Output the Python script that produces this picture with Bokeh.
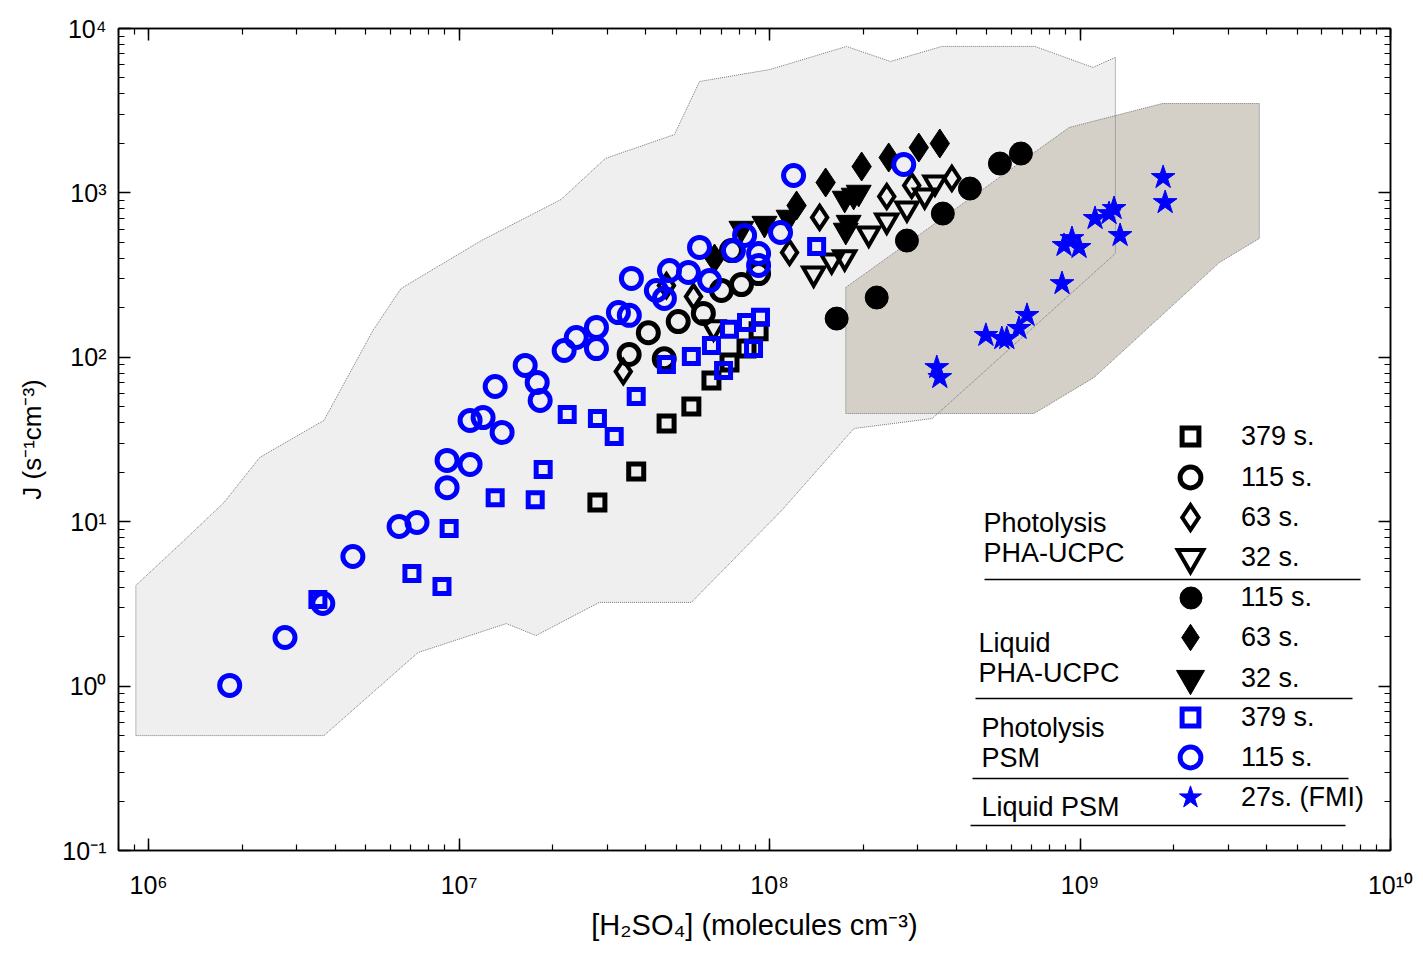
from bokeh.plotting import figure
from bokeh.models import (Range1d, LogAxis, LogTicker, CustomJSTickFormatter, Legend,
                          LegendItem, Label, BoxAnnotation)
from bokeh.embed import file_html
from bokeh.resources import INLINE

# ---------------- data ----------------
# Photolysis PHA-UCPC
ucpc_379_x = [2.79e7, 3.72e7, 4.66e7, 5.6e7, 6.5e7, 7.43e7, 8.43e7, 9.22e7]
ucpc_379_y = [13.1, 20.2, 39.6, 50.2, 72.3, 93, 113, 144]
ucpc_115_x = [3.53e7, 4.07e7, 4.58e7, 5.08e7, 6.12e7, 7.0e7, 8.12e7, 9.22e7, 7.54e7]
ucpc_115_y = [104, 141, 98, 165, 185, 255, 277, 323, 446]
ucpc_63_x = [3.38e7, 4.655e7, 5.69e7, 1.16e8, 1.45e8, 2.385e8, 2.87e8, 3.865e8]
ucpc_63_y = [81.9, 273, 234, 434, 709, 951, 1109, 1224]
ucpc_32_x = [6.6e7, 1.387e8, 1.585e8, 1.746e8, 2.087e8, 2.385e8, 2.77e8, 3.16e8, 3.41e8]
ucpc_32_y = [152, 323, 388, 405, 566, 679, 804, 965, 1157]
# Liquid PHA-UCPC
liq_115_x = [1.645e8, 2.214e8, 2.77e8, 3.615e8, 4.42e8, 5.52e8, 6.45e8]
liq_115_y = [172, 231, 513, 749, 1063, 1509, 1736]
liq_63_x = [6.65e7, 1.222e8, 1.516e8, 1.98e8, 2.42e8, 3.025e8, 3.535e8]
liq_63_y = [399, 838, 1157, 1447, 1642, 1888, 1998]
liq_32_x = [8.12e7, 9.63e7, 1.152e8, 1.746e8, 1.866e8, 1.937e8, 1.798e8, 1.76e8]
liq_32_y = [607, 651, 709, 925, 965, 1006, 660, 591]
# Photolysis PSM
psm_379_x = [3.51e6, 7.05e6, 8.81e6, 9.29e6, 1.307e7, 1.759e7, 1.866e7, 2.23e7, 2.79e7, 3.16e7,
             3.72e7, 4.655e7, 5.6e7, 6.5e7, 7.11e7, 7.43e7, 8.43e7, 8.88e7, 9.35e7, 1.418e8]
psm_379_y = [3.36, 4.84, 4.04, 9.09, 14.0, 13.6, 20.8, 44.9, 42.4, 33.0,
             57.7, 90.4, 101, 118, 83.1, 148, 163, 113, 175, 472]
psm_115_x = [1.825e6, 2.75e6, 3.64e6, 4.55e6, 6.41e6, 7.32e6, 9.15e6, 9.15e6, 1.085e7, 1.085e7,
             1.195e7, 1.376e7, 1.307e7, 1.633e7, 1.785e7, 1.825e7, 2.18e7, 2.385e7, 2.77e7, 2.77e7,
             3.26e7, 3.535e7, 3.59e7, 4.32e7, 4.585e7, 4.76e7, 5.48e7, 5.95e7, 6.41e7, 7.65e7,
             8.31e7, 9.22e7, 9.22e7, 1.085e8, 1.195e8, 2.705e8]
psm_115_y = [1.01, 1.975, 3.18, 6.14, 9.35, 9.89, 16.1, 23.6, 22.3, 41.3,
             43.0, 34.9, 66.4, 89.2, 70.3, 54.6, 110, 132, 152, 113,
             187, 180, 302, 255, 228, 337, 328, 466, 293, 446,
             551, 428, 362, 574, 1276, 1488]
# Liquid PSM (FMI)
fmi_27_x = [3.457e8, 3.535e8, 4.975e8, 5.6e8, 5.81e8, 6.36e8, 6.75e8, 8.75e8, 8.88e8, 9.42e8,
            9.93e8, 1.118e9, 1.24e9, 1.287e9, 1.346e9, 1.852e9, 1.88e9]
fmi_27_y = [86.7, 75.4, 136, 130, 130, 150, 180, 281, 479, 528,
            466, 699, 749, 804, 551, 1241, 874]

# shaded envelopes
light_x = [9.1e5, 9.1e5, 1.27e6, 1.75e6, 2.28e6, 3.67e6, 5.28e6, 6.5e6, 1.18e7, 2.13e7,
           2.96e7, 4.94e7, 5.95e7, 1.007e8, 1.77e8, 2.45e8, 3.59e8, 7.16e8, 1.10e9, 1.30e9,
           1.30e9, 3.34e8, 1.87e8, 1.094e8, 5.6e7, 2.83e7, 1.77e7, 1.42e7, 7.38e6, 3.67e6]
light_y = [0.5, 4.1, 7.37, 13.1, 24.6, 41.3, 145.6, 262, 513, 912,
           1620, 2265, 4760, 5640, 7780, 6300, 7780, 7780, 5800, 6670,
           428, 42.4, 36.9, 11.7, 3.23, 3.23, 2.03, 2.40, 1.60, 0.5]
dark_x = [1.76e8, 1.76e8, 7.11e8, 1.11e9, 2.81e9, 3.78e9, 3.78e9, 1.84e9, 9.23e8, 7.65e8]
dark_y = [266, 45.5, 45.5, 75.4, 377, 528, 3497, 3497, 2500, 1940]

FONT = "Liberation Sans"

p = figure(x_axis_type="log", y_axis_type="log",
           x_range=Range1d(8e5, 1e10), y_range=Range1d(0.1, 1e4),
           frame_width=1272, frame_height=822,
           min_border_left=118, min_border_right=25, min_border_top=28, min_border_bottom=93,
           output_backend="svg", toolbar_location=None,
           background_fill_color="white", border_fill_color="white",
           outline_line_color="black", outline_line_width=1.5)
p.grid.visible = False
bottom_ax = p.below[0]
left_ax = p.left[0]

# envelopes
p.patch(light_x, light_y, fill_color="#efefef", line_color=None)
p.patch(dark_x, dark_y, fill_color="#d4d0c8", line_color="#777777", line_width=1, line_dash="1 1")
p.line(light_x + light_x[:1], light_y + light_y[:1], line_color="#777777", line_width=1, line_dash="1 1")

# markers
r_u379 = p.scatter(ucpc_379_x, ucpc_379_y, marker="square", size=15, fill_alpha=0,
                   line_color="black", line_width=5, line_join="miter")
r_u115 = p.scatter(ucpc_115_x, ucpc_115_y, marker="circle", size=20, fill_alpha=0,
                   line_color="black", line_width=5)
r_u63 = p.scatter(ucpc_63_x, ucpc_63_y, marker="diamond", size=23, fill_alpha=0,
                  line_color="black", line_width=4, line_join="miter")
r_u32 = p.scatter(ucpc_32_x, ucpc_32_y, marker="inverted_triangle", size=21, fill_alpha=0,
                  line_color="black", line_width=4, line_join="miter")
r_l115 = p.scatter(liq_115_x, liq_115_y, marker="circle", size=23, fill_color="black",
                   line_color="black", line_width=1)
r_l63 = p.scatter(liq_63_x, liq_63_y, marker="diamond", size=29, fill_color="black",
                  line_color="black", line_width=1, line_join="miter")
r_l32 = p.scatter(liq_32_x, liq_32_y, marker="inverted_triangle", size=25, fill_color="black",
                  line_color="black", line_width=1, line_join="miter")
r_p379 = p.scatter(psm_379_x, psm_379_y, marker="square", size=14, fill_alpha=0,
                   line_color="#0000ff", line_width=5, line_join="miter")
r_p115 = p.scatter(psm_115_x, psm_115_y, marker="circle", size=20, fill_alpha=0,
                   line_color="#0000ff", line_width=5)
r_f27 = p.scatter(fmi_27_x, fmi_27_y, marker="star", size=25, fill_color="#0000ff",
                  line_color="#0000ff", line_width=1)

# axes
sup_fmt = CustomJSTickFormatter(code="""
const sup = {'0':'\\u2070','1':'\\u00b9','2':'\\u00b2','3':'\\u00b3','4':'\\u2074','5':'\\u2075',
             '6':'\\u2076','7':'\\u2077','8':'\\u2078','9':'\\u2079','-':'\\u207b'};
const e = Math.round(Math.log10(tick));
return '10' + String(e).split('').map(c => sup[c]).join('');
""")
blank_fmt = CustomJSTickFormatter(code="return '';")

top_ax = LogAxis()
right_ax = LogAxis()
p.add_layout(top_ax, "above")
p.add_layout(right_ax, "right")

for ax in [bottom_ax, left_ax, top_ax, right_ax]:
    ax.ticker = LogTicker(num_minor_ticks=10)
    ax.major_tick_in = 12
    ax.major_tick_out = 0
    ax.minor_tick_in = 6
    ax.minor_tick_out = 0
    ax.axis_line_width = 1.5
    ax.axis_line_color = "black"
    ax.major_tick_line_width = 1.5
    ax.minor_tick_line_width = 1.2
    ax.major_label_text_font = FONT
    ax.major_label_text_font_size = "25px"
    ax.major_label_text_color = "black"

for ax in [top_ax, right_ax]:
    ax.formatter = blank_fmt
    ax.major_label_standoff = 0

bottom_ax.formatter = sup_fmt
left_ax.formatter = sup_fmt
bottom_ax.major_label_standoff = 20
left_ax.major_label_standoff = 12

bottom_ax.axis_label = "[H\u2082SO\u2084] (molecules cm\u207b\u00b3)"
left_ax.axis_label = "J (s\u207b\u00b9cm\u207b\u00b3)"
for ax in [bottom_ax, left_ax]:
    ax.axis_label_text_font = FONT
    ax.axis_label_text_font_style = "normal"
    ax.axis_label_text_color = "black"
bottom_ax.axis_label_text_font_size = "29px"
left_ax.axis_label_text_font_size = "26px"
bottom_ax.axis_label_standoff = 7
left_ax.axis_label_standoff = 12

# legend: one Legend per row so each glyph gets its own size
FRAME_LEFT, FRAME_BOTTOM = 118, 850  # page px of frame
legend_rows = [
    (r_u379, "379 s.", 42, 436),
    (r_u115, "115 s.", 52, 477),
    (r_u63, "63 s.", 62, 517),
    (r_u32, "32 s.", 64, 557),
    (r_l115, "115 s.", 55, 597),
    (r_l63, "63 s.", 66, 637),
    (r_l32, "32 s.", 70, 678),
    (r_p379, "379 s.", 42, 717),
    (r_p115, "115 s.", 52, 757),
    (r_f27, "27s. (FMI)", 58, 797),
]
glyph_cx, text_x = 1190, 1241
for rend, lab, w, cy in legend_rows:
    leg = Legend(items=[LegendItem(label=lab, renderers=[rend])],
                 location=(glyph_cx - w / 2 - FRAME_LEFT, FRAME_BOTTOM - cy - w / 2),
                 glyph_width=w, glyph_height=w, label_standoff=int(text_x - glyph_cx - w / 2),
                 padding=0, spacing=0, margin=0,
                 border_line_alpha=0, background_fill_alpha=0,
                 label_text_font=FONT, label_text_font_size="27px", label_text_color="black")
    p.add_layout(leg)

group_labels = [
    ("Photolysis", 983, 522), ("PHA-UCPC", 983, 552),
    ("Liquid", 978, 642), ("PHA-UCPC", 978, 672),
    ("Photolysis", 981, 727), ("PSM", 981, 757),
    ("Liquid PSM", 981, 806),
]
for txt, px, py in group_labels:
    p.add_layout(Label(x=px - FRAME_LEFT, y=FRAME_BOTTOM - py, x_units="screen", y_units="screen",
                       text=txt, text_font=FONT, text_font_size="27px", text_color="black",
                       text_baseline="middle", text_align="left"))

separators = [(984, 1360, 579), (975, 1352, 698), (972, 1348, 778), (970, 1345, 825)]
for x0, x1, py in separators:
    p.add_layout(BoxAnnotation(left=x0 - FRAME_LEFT, right=x1 - FRAME_LEFT,
                               bottom=FRAME_BOTTOM - py - 0.75, top=FRAME_BOTTOM - py + 0.75,
                               left_units="screen", right_units="screen",
                               bottom_units="screen", top_units="screen",
                               fill_color="black", fill_alpha=1, line_alpha=0))

with open("out.html", "w", encoding="utf-8") as f:
    f.write(file_html(p, INLINE))
